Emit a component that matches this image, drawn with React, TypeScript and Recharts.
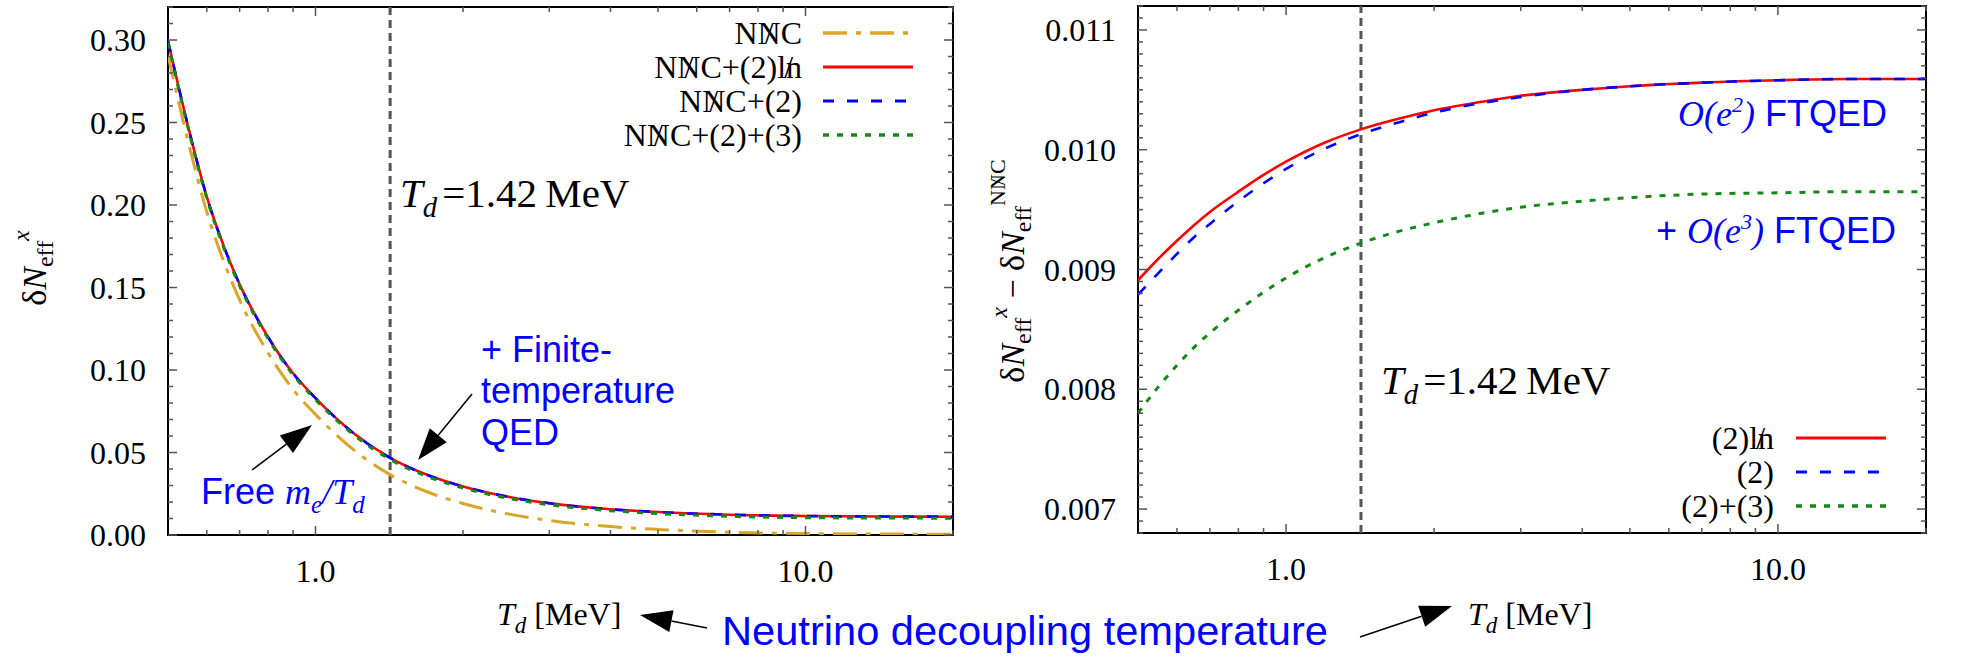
import React from 'react';
import { LineChart, Line, XAxis, YAxis, ReferenceLine, ReferenceArea } from 'recharts';

// ---------- data ----------
const T_VALUES = [0.5, 0.55, 0.6, 0.65, 0.7, 0.8, 0.9, 1.0, 1.2, 1.42, 1.7, 2.0, 2.5, 3.0, 4.0, 5.0, 7.0, 10, 14, 20];

// left panel: delta N_eff^x
const NNC_VALUES = [0.2906, 0.2381, 0.1958, 0.1656, 0.1425, 0.1104, 0.0882, 0.0731, 0.0513, 0.0366, 0.0259, 0.0191, 0.0125, 0.0088, 0.0051, 0.0034, 0.0017, 0.0009, 0.0006, 0.0005];
const NNC_2LN_VALUES = [0.2995, 0.2472, 0.205, 0.175, 0.152, 0.12, 0.098, 0.083, 0.0614, 0.0468, 0.0362, 0.0294, 0.0229, 0.0193, 0.0156, 0.0139, 0.0123, 0.0115, 0.0112, 0.0111];
const NNC_2_VALUES = [0.2994, 0.2471, 0.2049, 0.1749, 0.1519, 0.12, 0.0979, 0.0829, 0.0613, 0.0467, 0.0361, 0.0294, 0.0229, 0.0192, 0.0156, 0.0139, 0.0123, 0.0115, 0.0112, 0.0111];
const NNC_23_VALUES = [0.2984, 0.2461, 0.204, 0.174, 0.151, 0.1191, 0.097, 0.082, 0.0604, 0.0458, 0.0352, 0.0285, 0.022, 0.0183, 0.0147, 0.013, 0.0113, 0.0105, 0.0103, 0.0102];

// right panel: delta N_eff^x - delta N_eff^NNC
const DIFF_2LN = [0.00891, 0.00909, 0.00924, 0.00937, 0.00948, 0.00965, 0.00979, 0.0099, 0.01006, 0.01017, 0.01026, 0.01033, 0.0104, 0.01045, 0.0105, 0.01053, 0.01056, 0.01058, 0.01059, 0.01059];
const DIFF_2 = [0.00879, 0.00897, 0.00913, 0.00927, 0.00938, 0.00957, 0.00972, 0.00984, 0.01001, 0.01013, 0.01023, 0.01031, 0.01039, 0.01044, 0.0105, 0.01053, 0.01056, 0.01058, 0.01059, 0.01059];
const DIFF_23 = [0.0078, 0.00802, 0.0082, 0.00835, 0.00847, 0.00866, 0.00881, 0.00893, 0.0091, 0.00922, 0.00932, 0.00939, 0.00947, 0.00952, 0.00957, 0.0096, 0.00963, 0.00964, 0.00965, 0.00965];

// ticks
const X_TICKS = [0.6, 0.7, 0.8, 0.9, 1, 2, 3, 4, 5, 6, 7, 8, 9, 10, 20];
const X_MAJOR_LABELS: Record<string, string> = { '1': '1.0', '10': '10.0' };
const LEFT_Y_TICKS = Array.from({ length: 33 }, (_, i) => +(i * 0.01).toFixed(2));
const RIGHT_Y_TICKS = Array.from({ length: 45 }, (_, i) => +(0.0068 + i * 0.0001).toFixed(4));
const T_DEC = 1.42;

// ---------- styles ----------
const SERIF = "'Liberation Serif', 'DejaVu Serif', serif";
const SANS = "'Liberation Sans', Arial, sans-serif";
const BLUE_TXT = '#0000ff';
const TICK_COLOR = '#555';
const GOLD = '#d9a52b';
const RED = '#ff0000';
const BLUE = '#0000ff';
const GREEN = '#138a13';

const STY = {
  nnc: { stroke: GOLD, strokeWidth: 3, strokeDasharray: '24 9 5 9' },
  ln: { stroke: RED, strokeWidth: 2.6, strokeDasharray: undefined as any },
  two: { stroke: BLUE, strokeWidth: 2.6, strokeDasharray: '11 13' },
  three: { stroke: GREEN, strokeWidth: 3, strokeDasharray: '6 8' },
};

const leftData = T_VALUES.map((t, i) => ({
  T: t,
  nnc: NNC_VALUES[i],
  ln: NNC_2LN_VALUES[i],
  two: NNC_2_VALUES[i],
  three: NNC_23_VALUES[i],
}));
const rightData = T_VALUES.map((t, i) => ({
  T: t,
  ln: DIFF_2LN[i],
  two: DIFF_2[i],
  three: DIFF_23[i],
}));

// ---------- text pieces (slashed glyphs) ----------
function Nnc({ fs }: { fs: number }) {
  return (
    <>
      <tspan>N</tspan>
      <tspan dx={0.222 * fs}>/</tspan>
      <tspan dx={-0.5 * fs}>N</tspan>
      <tspan>C</tspan>
    </>
  );
}
function LnSlash({ fs }: { fs: number }) {
  return (
    <>
      <tspan>l</tspan>
      <tspan dx={-0.06 * fs}>/</tspan>
      <tspan dx={-0.22 * fs}>n</tspan>
    </>
  );
}

// ---------- ticks ----------
function makeXTick(plotTop: number) {
  return (props: any) => {
    const { x, y, payload } = props;
    const v = payload.value;
    const label = X_MAJOR_LABELS[String(v)];
    const len = label ? 9 : 5;
    return (
      <g>
        <line x1={x} x2={x} y1={y} y2={y - len} stroke={TICK_COLOR} strokeWidth={1.5} />
        <line x1={x} x2={x} y1={plotTop} y2={plotTop + len} stroke={TICK_COLOR} strokeWidth={1.5} />
        {label && (
          <text x={x} y={y + 47} textAnchor="middle" fontFamily={SERIF} fontSize={32} style={{ fontFamily: SERIF, fontSize: 32 }} fill="#000">
            {label}
          </text>
        )}
      </g>
    );
  };
}

function makeYTick(plotRight: number, step: number, digits: number) {
  return (props: any) => {
    const { x, y, payload } = props;
    const v = payload.value;
    const r = v / step;
    const major = Math.abs(r - Math.round(r)) < 1e-6;
    const len = major ? 9 : 5;
    return (
      <g>
        <line x1={x} x2={x + len} y1={y} y2={y} stroke={TICK_COLOR} strokeWidth={1.5} />
        <line x1={plotRight} x2={plotRight - len} y1={y} y2={y} stroke={TICK_COLOR} strokeWidth={1.5} />
        {major && (
          <text x={x - 22} y={y} dy="0.35em" textAnchor="end" fontFamily={SERIF} fontSize={32} style={{ fontFamily: SERIF, fontSize: 32 }} fill="#000">
            {v.toFixed(digits)}
          </text>
        )}
      </g>
    );
  };
}

// ---------- overlay helpers ----------
function Arrow({ tail, tip, L = 32, W = 11 }: { tail: [number, number]; tip: [number, number]; L?: number; W?: number }) {
  const dx = tip[0] - tail[0];
  const dy = tip[1] - tail[1];
  const d = Math.hypot(dx, dy);
  const ux = dx / d, uy = dy / d;
  const bx = tip[0] - L * ux, by = tip[1] - L * uy;
  const nx = -uy, ny = ux;
  const pts = `${tip[0]},${tip[1]} ${bx + W * nx},${by + W * ny} ${bx - W * nx},${by - W * ny}`;
  return (
    <g>
      <line x1={tail[0]} y1={tail[1]} x2={bx} y2={by} stroke="#000" strokeWidth={1.5} />
      <polygon points={pts} fill="#000" />
    </g>
  );
}

function LegendRow({ y, labelRight, x1, x2, children, sty }: any) {
  return (
    <g>
      <text x={labelRight} y={y + 11} textAnchor="end" style={{ fontFamily: SERIF, fontSize: 32 }} fill="#000">
        {children}
      </text>
      <line x1={x1} x2={x2} y1={y} y2={y} stroke={sty.stroke} strokeWidth={sty.strokeWidth + 0.4} strokeDasharray={sty.strokeDasharray} />
    </g>
  );
}

function TdText({ x, y, size = 41 }: { x: number; y: number; size?: number }) {
  return (
    <text x={x} y={y} style={{ fontFamily: SERIF, fontSize: size }} fill="#000">
      <tspan fontStyle="italic">T</tspan>
      <tspan fontStyle="italic" fontSize={size * 0.7} dy={size * 0.25}>d</tspan>
      <tspan dy={-size * 0.25} dx={5}>{'=1.42'}</tspan>
      <tspan dx={size * 0.2}>MeV</tspan>
    </text>
  );
}

function TdUnit({ x, y }: { x: number; y: number }) {
  return (
    <text x={x} y={y} style={{ fontFamily: SERIF, fontSize: 32 }} fill="#000">
      <tspan fontStyle="italic">T</tspan>
      <tspan fontStyle="italic" fontSize={23} dy={8}>d</tspan>
      <tspan dy={-8}>{' [MeV]'}</tspan>
    </text>
  );
}

function Overlay() {
  return (
    <svg width={1962} height={657} style={{ position: 'absolute', left: 0, top: 0, pointerEvents: 'none' }}>
      {/* left legend */}
      <LegendRow y={33} labelRight={802} x1={823} x2={913} sty={STY.nnc}>
        <Nnc fs={32} />
      </LegendRow>
      <LegendRow y={67} labelRight={802} x1={823} x2={913} sty={STY.ln}>
        <Nnc fs={32} />
        <tspan>+(2)</tspan>
        <LnSlash fs={32} />
      </LegendRow>
      <LegendRow y={101} labelRight={802} x1={823} x2={913} sty={STY.two}>
        <Nnc fs={32} />
        <tspan>+(2)</tspan>
      </LegendRow>
      <LegendRow y={135} labelRight={802} x1={823} x2={913} sty={STY.three}>
        <Nnc fs={32} />
        <tspan>+(2)+(3)</tspan>
      </LegendRow>

      {/* right legend */}
      <LegendRow y={438} labelRight={1774} x1={1796} x2={1886} sty={STY.ln}>
        <tspan>(2)</tspan>
        <LnSlash fs={32} />
      </LegendRow>
      <LegendRow y={472} labelRight={1774} x1={1796} x2={1886} sty={STY.two}>
        <tspan>(2)</tspan>
      </LegendRow>
      <LegendRow y={506} labelRight={1774} x1={1796} x2={1886} sty={STY.three}>
        <tspan>(2)+(3)</tspan>
      </LegendRow>

      <TdText x={400} y={207} />
      <TdText x={1381} y={394} />

      {/* blue annotations left */}
      <text style={{ fontFamily: SANS, fontSize: 36 }} fill={BLUE_TXT}>
        <tspan x={481} y={362}>+ Finite-</tspan>
        <tspan x={481} y={403}>temperature</tspan>
        <tspan x={481} y={445}>QED</tspan>
      </text>
      <text x={201} y={504} style={{ fontSize: 36 }} fill={BLUE_TXT}>
        <tspan fontFamily={SANS}>Free </tspan>
        <tspan fontFamily={SERIF} fontStyle="italic">m</tspan>
        <tspan fontFamily={SERIF} fontStyle="italic" fontSize={25} dy={9}>e</tspan>
        <tspan fontFamily={SERIF} fontStyle="italic" dy={-9}>/T</tspan>
        <tspan fontFamily={SERIF} fontStyle="italic" fontSize={25} dy={9}>d</tspan>
      </text>

      {/* blue annotations right */}
      <text x={1678} y={126} style={{ fontSize: 36 }} fill={BLUE_TXT}>
        <tspan fontFamily={SERIF} fontStyle="italic">O(e</tspan>
        <tspan fontFamily={SERIF} fontStyle="italic" fontSize={22} dy={-14}>2</tspan>
        <tspan fontFamily={SERIF} fontStyle="italic" dy={14}>)</tspan>
        <tspan fontFamily={SANS}> FTQED</tspan>
      </text>
      <text x={1656} y={243} style={{ fontSize: 36 }} fill={BLUE_TXT}>
        <tspan fontFamily={SANS}>+ </tspan>
        <tspan fontFamily={SERIF} fontStyle="italic">O(e</tspan>
        <tspan fontFamily={SERIF} fontStyle="italic" fontSize={22} dy={-14}>3</tspan>
        <tspan fontFamily={SERIF} fontStyle="italic" dy={14}>)</tspan>
        <tspan fontFamily={SANS}> FTQED</tspan>
      </text>

      {/* axis titles */}
      <TdUnit x={497} y={625} />
      <TdUnit x={1468} y={625} />
      <text x={722} y={645} style={{ fontFamily: SANS, fontSize: 41.5 }} fill={BLUE_TXT} textLength={606} lengthAdjust="spacingAndGlyphs">
        Neutrino decoupling temperature
      </text>

      <text transform="rotate(-90 46 268)" x={46} y={268} textAnchor="middle" style={{ fontFamily: SERIF, fontSize: 34 }} fill="#000">
        <tspan>δ</tspan>
        <tspan fontStyle="italic">N</tspan>
        <tspan fontSize={24} dy={7}>eff</tspan>
        <tspan fontSize={24} fontStyle="italic" dy={-24}>x</tspan>
      </text>
      <text transform="rotate(-90 1024 271)" x={1024} y={271} textAnchor="middle" style={{ fontFamily: SERIF, fontSize: 34 }} fill="#000">
        <tspan>δ</tspan>
        <tspan fontStyle="italic">N</tspan>
        <tspan fontSize={24} dy={7}>eff</tspan>
        <tspan fontSize={24} fontStyle="italic" dy={-24}>x</tspan>
        <tspan dy={17}>{' \u2212 '}</tspan>
        <tspan>δ</tspan>
        <tspan fontStyle="italic">N</tspan>
        <tspan fontSize={24} dy={7}>eff</tspan>
        <tspan fontSize={22} dy={-26}>N</tspan>
        <tspan fontSize={22} dx={5}>/</tspan>
        <tspan fontSize={22} dx={-11}>N</tspan>
        <tspan fontSize={22}>C</tspan>
      </text>

      {/* arrows */}
      <Arrow tail={[252, 470]} tip={[312, 425]} />
      <Arrow tail={[472, 394]} tip={[418, 460]} />
      <Arrow tail={[707, 628]} tip={[640, 615]} />
      <Arrow tail={[1360, 637]} tip={[1452, 606]} />
    </svg>
  );
}

export default function App() {
  return (
    <div style={{ position: 'absolute', left: 0, top: 0, width: 1962, height: 657, background: '#fff' }}>
      <div style={{ position: 'absolute', left: 0, top: 0 }}>
        <LineChart width={980} height={657} data={leftData} margin={{ top: 7, right: 27, bottom: 62, left: 18 }}>
          <XAxis
            dataKey="T"
            type="number"
            scale="log"
            domain={[0.5, 20]}
            allowDataOverflow
            ticks={X_TICKS}
            interval={0}
            tickLine={false}
            axisLine={false}
            tickSize={0}
            tickMargin={0}
            height={60}
            tick={makeXTick(7)}
          />
          <YAxis
            type="number"
            domain={[0, 0.32]}
            allowDataOverflow
            ticks={LEFT_Y_TICKS}
            interval={0}
            tickLine={false}
            axisLine={false}
            tickSize={0}
            tickMargin={0}
            width={150}
            tick={makeYTick(953, 0.05, 2)}
          />
          <ReferenceLine x={T_DEC} stroke="#555" strokeWidth={3} strokeDasharray="8 5" />
          <Line dataKey="nnc" type="monotone" dot={false} isAnimationActive={false} {...STY.nnc} />
          <Line dataKey="ln" type="monotone" dot={false} isAnimationActive={false} {...STY.ln} />
          <Line dataKey="two" type="monotone" dot={false} isAnimationActive={false} {...STY.two} />
          <Line dataKey="three" type="monotone" dot={false} isAnimationActive={false} {...STY.three} />
          <ReferenceArea x1={0.5} x2={20} y1={0} y2={0.32} fill="none" fillOpacity={0} stroke="#000" strokeWidth={2} />
        </LineChart>
      </div>
      <div style={{ position: 'absolute', left: 980, top: 0 }}>
        <LineChart width={982} height={657} data={rightData} margin={{ top: 6, right: 36, bottom: 64, left: 8 }}>
          <XAxis
            dataKey="T"
            type="number"
            scale="log"
            domain={[0.5, 20]}
            allowDataOverflow
            ticks={X_TICKS}
            interval={0}
            tickLine={false}
            axisLine={false}
            tickSize={0}
            tickMargin={0}
            height={60}
            tick={makeXTick(6)}
          />
          <YAxis
            type="number"
            domain={[0.0068, 0.0112]}
            allowDataOverflow
            ticks={RIGHT_Y_TICKS}
            interval={0}
            tickLine={false}
            axisLine={false}
            tickSize={0}
            tickMargin={0}
            width={150}
            tick={makeYTick(946, 0.001, 3)}
          />
          <ReferenceLine x={T_DEC} stroke="#555" strokeWidth={3} strokeDasharray="8 5" />
          <Line dataKey="ln" type="monotone" dot={false} isAnimationActive={false} {...STY.ln} />
          <Line dataKey="two" type="monotone" dot={false} isAnimationActive={false} {...STY.two} />
          <Line dataKey="three" type="monotone" dot={false} isAnimationActive={false} {...STY.three} />
          <ReferenceArea x1={0.5} x2={20} y1={0.0068} y2={0.0112} fill="none" fillOpacity={0} stroke="#000" strokeWidth={2} />
        </LineChart>
      </div>
      <Overlay />
    </div>
  );
}
